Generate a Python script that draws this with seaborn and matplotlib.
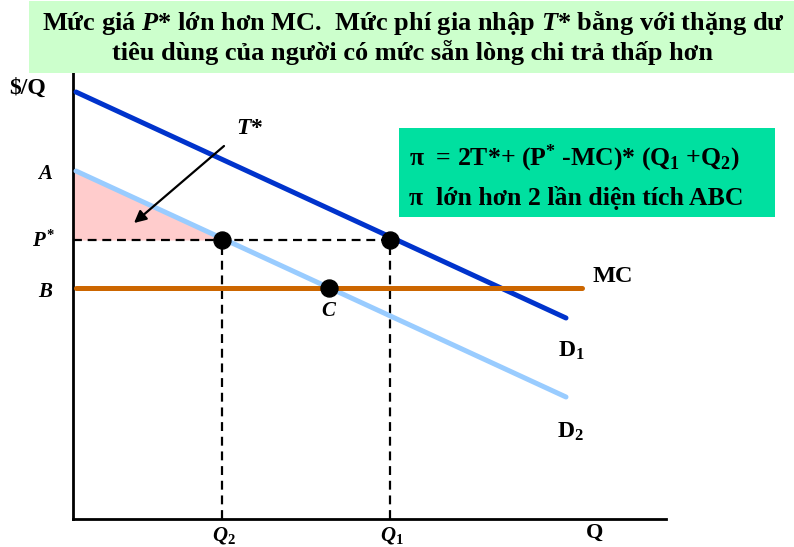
import matplotlib
matplotlib.use("Agg")
import matplotlib.pyplot as plt
import seaborn as sns
from matplotlib.patches import Rectangle

# ---------------- data ----------------
q_axis_max = 59.3
p_axis_max = 44.6

d1_q = [0.3, 49.3]
d1_p = [42.7, 20.1]
d2_q = [0.3, 49.3]
d2_p = [34.8, 12.2]
mc_q = [0.3, 50.9]
mc_p = [23.1, 23.1]

p_star = 27.9
q1 = 31.7
q2 = 14.9
c_q = 25.6
mc_value = 23.1
a_value = 34.8

points_q = [q2, q1, c_q]
points_p = [p_star, p_star, mc_value]

title_text = ("Mức giá $\\mathit{P}$* lớn hơn MC.  Mức phí gia nhập $\\mathit{T}$* bằng với thặng dư\n"
              "tiêu dùng của người có mức sẵn lòng chi trả thấp hơn")
formula_line1 = "π  = 2T*+ ($\\mathrm{P}^{*}$ -MC)* ($\\mathrm{Q}_{1}$ +$\\mathrm{Q}_{2}$)"
formula_line2 = "π  lớn hơn 2 lần diện tích ABC"

# ---------------- style ----------------
sns.set_theme(style="white")
plt.rcParams["font.family"] = ["Liberation Serif", "DejaVu Serif"]
plt.rcParams["font.weight"] = "bold"
plt.rcParams["mathtext.fontset"] = "custom"
plt.rcParams["mathtext.rm"] = "Liberation Serif:bold"
plt.rcParams["mathtext.it"] = "Liberation Serif:bold:italic"
plt.rcParams["mathtext.bf"] = "Liberation Serif:bold"

fig = plt.figure(figsize=(7.94, 5.47), dpi=100)
W, H = 794, 547
ax = fig.add_axes([73 / W, (H - 519) / H, 593 / W, 446 / H])
ax.set_xlim(0, q_axis_max)
ax.set_ylim(0, p_axis_max)
ax.set_facecolor("white")
for s in ["top", "right"]:
    ax.spines[s].set_visible(False)
for s in ["left", "bottom"]:
    ax.spines[s].set_color("black")
    ax.spines[s].set_linewidth(2)
ax.set_xticks([])
ax.set_yticks([])
ax.set_xlabel("")
ax.set_ylabel("")

# title box
fig.patches.append(Rectangle((29 / W, 1 - 73 / H), 1 - 29 / W, 72 / H,
                             transform=fig.transFigure, facecolor="#ccffcc",
                             edgecolor="none", zorder=0))
fig.text(413 / W, 1 - 37 / H, title_text, ha="center", va="center",
         fontsize=19, fontweight="bold", color="black", linespacing=1.15)

# pink triangle (consumer surplus T*)
ax.fill_between([0, q2], [a_value, p_star], [p_star, p_star],
                color="#ffcccc", linewidth=0, zorder=1)

# lines
sns.lineplot(x=d2_q, y=d2_p, ax=ax, color="#99ccff", linewidth=3.6, zorder=3)
sns.lineplot(x=d1_q, y=d1_p, ax=ax, color="#0033cc", linewidth=3.6, zorder=3)
sns.lineplot(x=mc_q, y=mc_p, ax=ax, color="#cc6600", linewidth=3.6, zorder=4)

# dashed guides
ax.plot([0, q1], [p_star, p_star], color="black", linestyle=(0, (4, 2.6)),
        linewidth=1.6, zorder=2)
ax.plot([q2, q2], [0, p_star], color="black", linestyle=(0, (4, 2.6)),
        linewidth=1.6, zorder=2)
ax.plot([q1, q1], [0, p_star], color="black", linestyle=(0, (4, 2.6)),
        linewidth=1.6, zorder=2)

# points
sns.scatterplot(x=points_q, y=points_p, ax=ax, color="black", s=150,
                edgecolor="black", zorder=6)

# arrow T*
ax.annotate("", xy=(6.1, 29.6), xytext=(15.1, 37.3),
            arrowprops=dict(arrowstyle="-|>", color="black", lw=1.6,
                            mutation_scale=18, shrinkA=0, shrinkB=0),
            zorder=7)

# labels
lab = dict(ha="center", va="center", color="black", clip_on=False)
ax.text(17.7, 39.1, "$\\mathit{T}$*", fontsize=17, **lab)
ax.text(-4.5, 43.1, "$/Q", fontsize=17, fontweight="bold", **lab)
ax.text(-2.8, 34.5, "$\\mathit{A}$", fontsize=15, **lab)
ax.text(-3.0, 27.8, "$\\mathit{P}^{*}$", fontsize=15, **lab)
ax.text(-2.7, 22.7, "$\\mathit{B}$", fontsize=15, **lab)
ax.text(25.6, 20.8, "$\\mathit{C}$", fontsize=15, **lab)
ax.text(54.0, 24.2, "MC", fontsize=17.5, fontweight="bold", **lab)
ax.text(49.8, 16.8, "D$_{1}$", fontsize=17, fontweight="bold", **lab)
ax.text(49.7, 8.7, "D$_{2}$", fontsize=17, fontweight="bold", **lab)
ax.text(15.1, -1.6, "$\\mathit{Q}_{\\mathit{2}}$", fontsize=15, **lab)
ax.text(31.9, -1.6, "$\\mathit{Q}_{\\mathit{1}}$", fontsize=15, **lab)
ax.text(52.2, -1.4, "Q", fontsize=16, fontweight="bold", **lab)

# formula box
fig.patches.append(Rectangle((399 / W, 1 - 217 / H), 376 / W, 89 / H,
                             transform=fig.transFigure, facecolor="#00e0a0",
                             edgecolor="none", zorder=0))
fig.text(409 / W, 1 - 158 / H, formula_line1, ha="left", va="center",
         fontsize=18.5, fontweight="bold", color="black")
fig.text(409 / W, 1 - 198 / H, formula_line2, ha="left", va="center",
         fontsize=18.5, fontweight="bold", color="black")

fig.savefig("out.png", dpi=100, facecolor="white")
